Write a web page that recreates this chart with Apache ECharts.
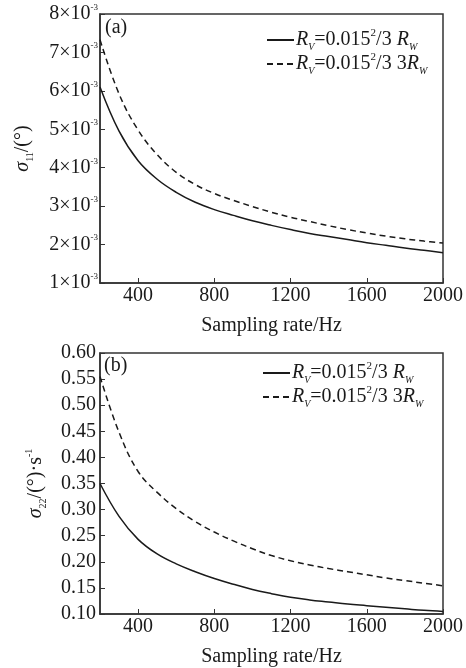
<!DOCTYPE html>
<html>
<head>
<meta charset="utf-8">
<script src="https://cdn.jsdelivr.net/npm/echarts@6/dist/echarts.min.js"></script>
<style>
  html, body { margin: 0; padding: 0; background: #fff; }
  #chart { width: 466px; height: 668px; }
</style>
</head>
<body>
<div id="chart"></div>
<script>
// sampling rate (Hz)
const rates = [200, 300, 400, 500, 600, 700, 800, 900, 1000, 1100, 1200, 1300, 1400, 1500, 1600, 1700, 1800, 1900, 2000];

// (a) sigma11, in units of 1e-3 deg
const sigma11Rw = [6.10, 4.95, 4.18, 3.70, 3.36, 3.10, 2.91, 2.76, 2.62, 2.50, 2.39, 2.29, 2.21, 2.13, 2.05, 1.98, 1.91, 1.85, 1.79];
const sigma11Rw3 = [7.33, 5.92, 4.98, 4.34, 3.88, 3.56, 3.33, 3.15, 2.99, 2.84, 2.71, 2.60, 2.49, 2.39, 2.30, 2.22, 2.15, 2.09, 2.04];

// (b) sigma22, deg/s
const sigma22Rw = [0.350, 0.287, 0.243, 0.215, 0.196, 0.181, 0.168, 0.157, 0.147, 0.139, 0.132, 0.127, 0.123, 0.119, 0.116, 0.113, 0.110, 0.107, 0.105];
const sigma22Rw3 = [0.555, 0.448, 0.373, 0.333, 0.302, 0.277, 0.257, 0.240, 0.225, 0.212, 0.202, 0.194, 0.187, 0.181, 0.175, 0.169, 0.164, 0.159, 0.154];

const xTicks = [400, 800, 1200, 1600, 2000];

const FONT = '"Liberation Serif", "DejaVu Serif", serif';
const INK = '#1a1a1a';

const pairs = (ys) => rates.map((x, i) => [x, ys[i]]);

const legendRich = {
  i: { fontFamily: FONT, fontStyle: 'italic', fontSize: 20, color: INK, lineHeight: 24 },
  n: { fontFamily: FONT, fontSize: 20, color: INK, lineHeight: 24 },
  s: { fontFamily: FONT, fontStyle: 'italic', fontSize: 10, color: INK, verticalAlign: 'bottom', lineHeight: 24 },
  p: { fontFamily: FONT, fontSize: 11, color: INK, verticalAlign: 'top', lineHeight: 24 }
};
const legendText = {
  a1: '{i|R}{s|V}{n|=0.015}{p|2}{n|/3 }{i|R}{s|W}',
  a2: '{i|R}{s|V}{n|=0.015}{p|2}{n|/3 3}{i|R}{s|W}',
  b1: '{i|R}{s|V}{n|=0.015}{p|2}{n|/3 }{i|R}{s|W}',
  b2: '{i|R}{s|V}{n|=0.015}{p|2}{n|/3 3}{i|R}{s|W}'
};

function makeX(gridIndex) {
  return {
    type: 'value',
    gridIndex: gridIndex,
    min: 200,
    max: 2000,
    name: 'Sampling rate/Hz',
    nameLocation: 'middle',
    nameGap: 33,
    nameTextStyle: { fontFamily: FONT, fontSize: 20, color: INK },
    axisLine: { lineStyle: { color: '#333', width: 1.5 } },
    axisTick: { inside: true, length: 5, customValues: xTicks, lineStyle: { color: '#333' } },
    axisLabel: {
      customValues: xTicks, fontFamily: FONT, fontSize: 20, color: INK, margin: 3,
      formatter: (v) => String(v)
    },
    splitLine: { show: false }
  };
}

function makeSeries(name, ys, idx, dashed) {
  return {
    name: name,
    type: 'line',
    xAxisIndex: idx,
    yAxisIndex: idx,
    data: pairs(ys),
    smooth: 0.4,
    symbol: 'none',
    lineStyle: { color: INK, width: 1.5, type: dashed ? [6, 4] : 'solid' },
    itemStyle: { color: INK }
  };
}

const chart = echarts.init(document.getElementById('chart'), null, { renderer: 'canvas' });

const legendBase = {
  orient: 'vertical',
  itemWidth: 27,
  itemHeight: 10,
  itemGap: 0,
  formatter: (n) => legendText[n],
  textStyle: { rich: legendRich, padding: [0, 0, 0, -3] },
  itemStyle: { opacity: 0 },
  selectedMode: false
};

chart.setOption({
  backgroundColor: '#fff',
  animation: false,
  grid: [
    { left: 100, right: 23, top: 14, height: 269, show: true, borderColor: '#333', borderWidth: 1.5 },
    { left: 100, right: 22, top: 353, height: 268, show: true, borderColor: '#333', borderWidth: 1.5 }
  ],
  xAxis: [makeX(0), makeX(1)],
  yAxis: [
    {
      type: 'value',
      gridIndex: 0,
      min: 1,
      max: 8,
      interval: 1,
      name: '{g|σ}{sub|11}{n|/(°)}',
      nameLocation: 'middle',
      nameGap: 65,
      nameTextStyle: {
        rich: {
          g: { fontFamily: FONT, fontStyle: 'italic', fontSize: 20, color: INK, lineHeight: 24 },
          sub: { fontFamily: FONT, fontSize: 10, color: INK, verticalAlign: 'bottom', lineHeight: 24 },
          n: { fontFamily: FONT, fontSize: 20, color: INK, lineHeight: 24 }
        }
      },
      axisLine: { lineStyle: { color: '#333', width: 1.5 } },
      axisTick: { inside: true, length: 5, lineStyle: { color: '#333' } },
      axisLabel: {
        margin: 2,
        formatter: (v) => '{m|' + v + '×10}{e|-3}',
        rich: {
          m: { fontFamily: FONT, fontSize: 20, color: INK, lineHeight: 22 },
          e: { fontFamily: FONT, fontSize: 9, color: INK, verticalAlign: 'top', lineHeight: 22 }
        }
      },
      splitLine: { show: false }
    },
    {
      type: 'value',
      gridIndex: 1,
      min: 0.1,
      max: 0.6,
      interval: 0.05,
      name: '{g|σ}{sub|22}{n|/(°)·s}{e|-1}',
      nameLocation: 'middle',
      nameGap: 52,
      nameTextStyle: {
        rich: {
          g: { fontFamily: FONT, fontStyle: 'italic', fontSize: 20, color: INK, lineHeight: 24 },
          sub: { fontFamily: FONT, fontSize: 10, color: INK, verticalAlign: 'bottom', lineHeight: 24 },
          n: { fontFamily: FONT, fontSize: 20, color: INK, lineHeight: 24 },
          e: { fontFamily: FONT, fontSize: 10, color: INK, verticalAlign: 'top', lineHeight: 24 }
        }
      },
      axisLine: { lineStyle: { color: '#333', width: 1.5 } },
      axisTick: { inside: true, length: 5, lineStyle: { color: '#333' } },
      axisLabel: {
        margin: 4,
        fontFamily: FONT,
        fontSize: 20,
        color: INK,
        formatter: (v) => v.toFixed(2)
      },
      splitLine: { show: false }
    }
  ],
  legend: [
    Object.assign({ data: ['a1', 'a2'], left: 261, top: 23 }, legendBase),
    Object.assign({ data: ['b1', 'b2'], left: 257, top: 356 }, legendBase)
  ],
  graphic: [
    { type: 'text', left: 105, top: 18, style: { text: '(a)', font: '20px ' + FONT, fill: INK } },
    { type: 'text', left: 104, top: 356, style: { text: '(b)', font: '20px ' + FONT, fill: INK } }
  ],
  series: [
    makeSeries('a1', sigma11Rw, 0, false),
    makeSeries('a2', sigma11Rw3, 0, true),
    makeSeries('b1', sigma22Rw, 1, false),
    makeSeries('b2', sigma22Rw3, 1, true)
  ]
});
</script>
</body>
</html>
